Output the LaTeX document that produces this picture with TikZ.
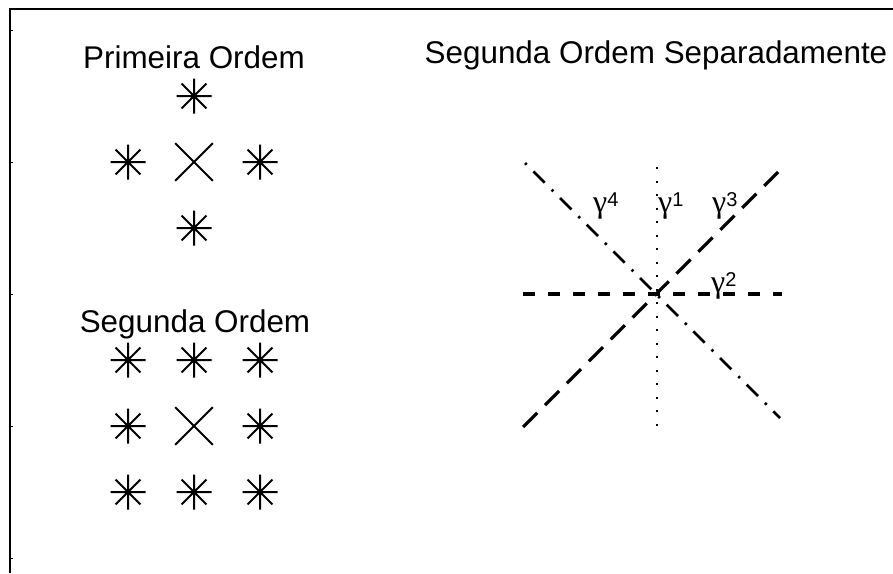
\documentclass[tikz,border=0pt]{standalone}
\usepackage{fontspec}
\setmainfont{Liberation Sans}
\newfontfamily\gregofonte{Liberation Serif}

\tikzset{
	asterisco/.pic={\draw[line width=2pt] (-17.5,0)--(17.5,0) (0,-17.5)--(0,17.5)
		(-12.4,-12.4)--(12.4,12.4) (-12.4,12.4)--(12.4,-12.4);},
	xis/.pic={\draw[line width=2pt] (-18.8,-18.8)--(18.8,18.8) (-18.8,18.8)--(18.8,-18.8);},
	titulo/.style={anchor=base,inner sep=0pt,font=\fontsize{31.4}{36}\selectfont},
	rotulo/.style={anchor=base west,inner sep=0pt,font=\fontsize{20}{20}\selectfont},
	tracejado/.style={line width=3.2pt,dash pattern=on 12pt off 13pt},
	tracolongo/.style={line width=3.2pt,dash pattern=on 20pt off 11pt},
	pontilhado/.style={line width=2.6pt,dash pattern=on 2.4pt off 11.1pt},
	tracoponto/.style={line width=2.8pt,dash pattern=on 2.4pt off 9.5pt on 16pt off 9.8pt}
}
\newcommand{\gama}[1]{{\gregofonte\fontsize{32}{32}\selectfont γ}\raisebox{6pt}{#1}}

\begin{document}
\begin{tikzpicture}[x=1pt,y=-1pt]
	\useasboundingbox (0,0) rectangle (893,573);

	%frame
	\draw[line width=1.5pt] (10,573) -- (10,9) -- (893,9);
	\foreach \t in {30,162,294,426,558}
	\draw[line width=1pt] (10,\t) -- (12.5,\t);

	%Primeira Ordem
	\foreach \x/\y in {194/96,128/162,260/162,194/228}
	\pic at (\x,\y) {asterisco};
	\pic at (194,162) {xis};

	%Segunda Ordem
	\foreach \x in {128,194,260}
	\foreach \y in {360,426,492}
	{\ifnum\x\y=194426 \else \pic at (\x,\y) {asterisco}; \fi}
	\pic at (194,426) {xis};

	%Separadamente
	\coordinate (c) at (657,294);
	\coordinate (h1) at (523,294);
	\coordinate (h2) at (782,294);
	\coordinate (v1) at (657,167);
	\coordinate (v2) at (657,427);
	\coordinate (d1) at (523,427);
	\coordinate (d2) at (778,172);
	\coordinate (e1) at (525,163);
	\coordinate (e2) at (780,418);
	%
	\draw[pontilhado] (v1) -- (v2);
	\draw[tracejado] (h1) -- (h2);
	\draw[tracolongo] (d1) -- (d2);
	\draw[tracoponto] (e1) -- (e2);

	%labels
	\node[titulo] (prim) at (194,68) {Primeira Ordem};
	\node[titulo] (seg) at (195,332) {Segunda Ordem};
	\node[titulo] (sep) at (656,63) {Segunda Ordem Separadamente};
	%
	\node[rotulo] (g4) at (593,212) {\gama{4}};
	\node[rotulo] (g1) at (658,212) {\gama{1}};
	\node[rotulo] (g3) at (712,212) {\gama{3}};
	\node[rotulo] (g2) at (711,292) {\gama{2}};
\end{tikzpicture}
\end{document}
